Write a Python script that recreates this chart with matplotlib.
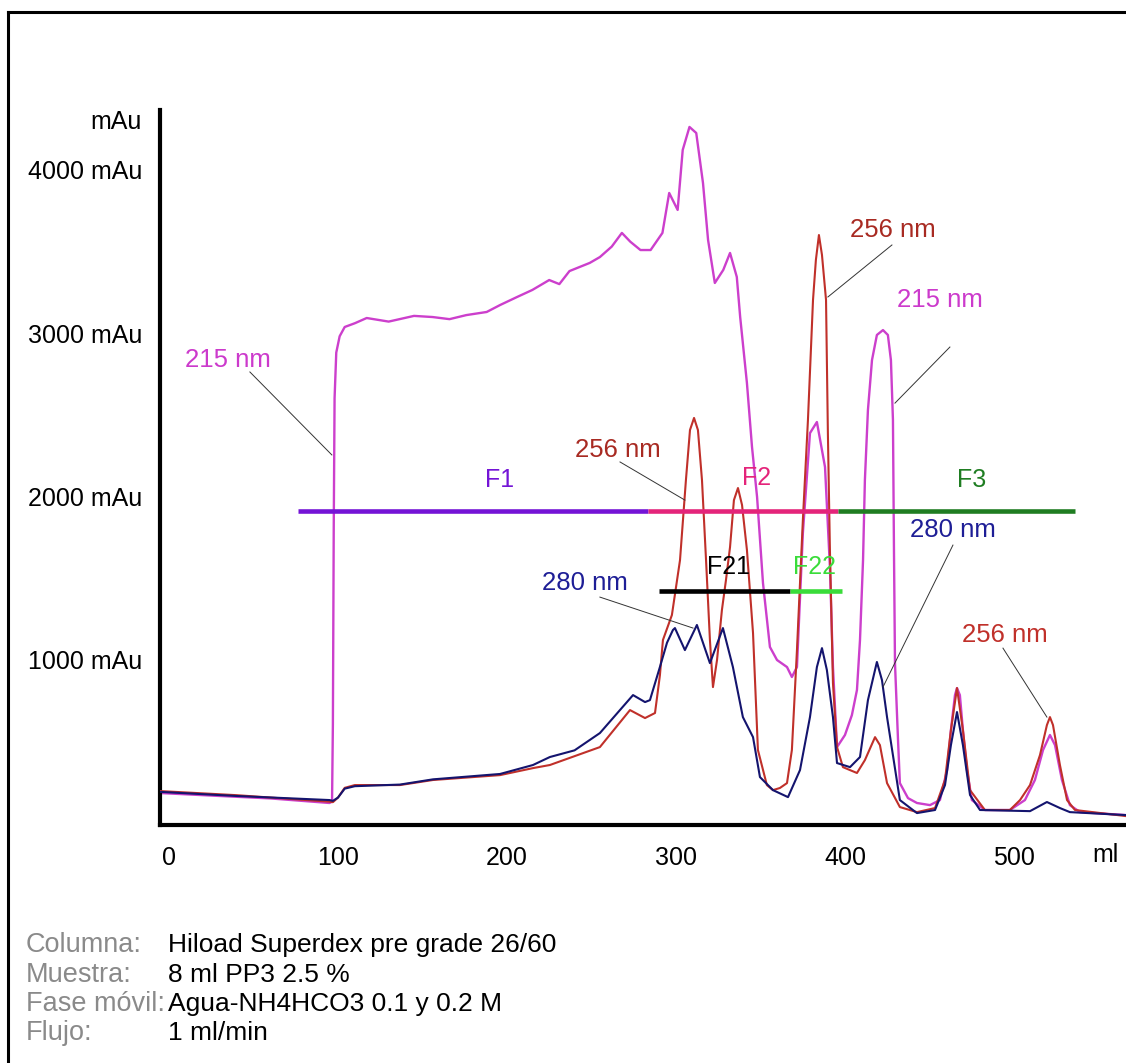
import matplotlib
matplotlib.use("Agg")
import matplotlib.pyplot as plt
from matplotlib.lines import Line2D

plt.rcParams['font.family'] = ['Liberation Sans', 'DejaVu Sans']

# --- chromatogram traces (ml, mAu) ---
ml_215 = [-5, 30, 60, 95, 96.5, 97, 97.5, 98, 99, 101, 104, 110, 117, 130, 145, 156, 166, 176,
          188, 196, 206, 215, 225, 231, 237, 243, 249, 255, 262, 268, 273, 279, 285, 292, 296,
          301, 304, 308, 312, 316, 319, 323, 328, 332, 336, 338, 342, 345, 348, 351.5, 355.6,
          359.8, 365.7, 368.6, 371.6, 375.1, 379.3, 383.4, 388.2, 391.1, 392.9, 395.3, 400,
          404.1, 407.1, 408.9, 410.7, 411.8, 413.6, 416, 418.9, 422.5, 425.4, 427.2, 428.4,
          429, 429.6, 431.4, 432.5, 437.3, 442.6, 450.3, 456.2, 460.4, 462.7, 465.1, 466.3,
          468, 469.8, 472.2, 475.1, 482.8, 497.6, 506.5, 512.4, 517.2, 521.3, 524.3, 528.4,
          533.1, 539.1, 566]
mau_215 = [178, 160, 145, 117, 125, 600, 1800, 2600, 2880, 2980, 3037, 3060, 3092, 3070, 3105,
           3098, 3085, 3110, 3129, 3172, 3221, 3264, 3325, 3300, 3380, 3405, 3430, 3466, 3530,
           3614, 3560, 3509, 3509, 3614, 3859, 3755, 4123, 4264, 4227, 3920, 3571, 3307, 3387,
           3491, 3344, 3098, 2693, 2301, 1994, 1466, 1074, 994, 951, 890, 951, 1773, 2386,
           2454, 2178, 1564, 951, 460, 534, 656, 810, 1117, 1607, 2098, 2528, 2834, 2988,
           3018, 2988, 2834, 2466, 1669, 975, 503, 239, 147, 117, 104, 135, 319, 564, 779,
           822, 779, 564, 319, 135, 74, 74, 135, 258, 442, 534, 472, 258, 104, 61, 43]

ml_256 = [-5, 40, 95, 97, 100, 104, 110, 136.7, 156.2, 195.9, 215.4, 225.4, 255, 272.8, 281.7,
          287.6, 290.5, 292.3, 297.6, 302.4, 305.9, 308.3, 310.7, 313, 315.4, 317.8, 320.1,
          321.9, 324.3, 327.2, 329.6, 332, 334.3, 336.7, 339.1, 342, 345.6, 348.5, 353.8,
          357.4, 361.5, 365.7, 368.6, 371.6, 375.1, 378.1, 381.1, 382.8, 384.6, 386.4, 388.8,
          389.9, 391.1, 392.9, 395.3, 398.8, 407.1, 411.8, 417.8, 420.7, 424.9, 432.5, 442.6,
          453.3, 459.2, 462.7, 466.3, 469.8, 474, 482.8, 497.6, 503.6, 509.5, 515.4, 519.5,
          521.3, 523.1, 527.2, 531.4, 536.1, 566]
mau_256 = [190, 165, 125, 122, 150, 210, 227, 227, 258, 288, 331, 350, 460, 687, 638, 669, 900,
           1117, 1270, 1607, 2098, 2405, 2479, 2405, 2098, 1607, 1117, 828, 994, 1301, 1485,
           1687, 1975, 2049, 1945, 1669, 1160, 442, 227, 196, 209, 239, 442, 1055, 1853, 2466,
           3203, 3448, 3601, 3479, 3203, 2386, 1669, 853, 460, 337, 301, 380, 521, 472, 239,
           92, 61, 86, 258, 564, 822, 564, 196, 74, 74, 135, 227, 411, 595, 644, 595, 350,
           135, 74, 37]

ml_280 = [-5, 40, 95, 97, 100, 104, 110, 136.7, 156.2, 195.9, 215.4, 225.4, 240, 255, 274.6,
          281.7, 284.6, 290.5, 294.7, 298.2, 299.4, 305.3, 312.4, 320.1, 327.8, 333.7, 339.6,
          345.6, 349.7, 357.4, 366.3, 373.4, 379.3, 383.4, 386.4, 389.3, 392.9, 395.3, 403,
          408.9, 413.6, 418.9, 421.9, 424.9, 432.5, 442.6, 453.3, 459.2, 462.7, 466.3, 469.8,
          474, 479.9, 509.5, 519.5, 527.2, 533.1, 566]
mau_280 = [185, 160, 135, 130, 150, 205, 220, 230, 262, 295, 350, 399, 440, 546, 779, 736, 748,
           951, 1100, 1178, 1190, 1055, 1209, 975, 1190, 951, 644, 521, 276, 196, 153, 319,
           644, 951, 1067, 933, 644, 362, 337, 399, 748, 982, 871, 644, 135, 55, 74, 227, 472,
           675, 472, 166, 74, 67, 123, 86, 61, 43]

# --- fraction bars (start ml, end ml, mAu) ---
fractions = ['F1', 'F2', 'F3', 'F21', 'F22']
frac_start = [76.3, 283.4, 395.9, 289.9, 367.5]
frac_end = [283.4, 395.9, 536.1, 367.5, 398.2]
frac_level = [1908, 1908, 1908, 1417, 1417]
frac_label_x = [195.9, 347.9, 475.1, 330.8, 382.2]
frac_label_y = [2098, 2110, 2098, 1564, 1564]
frac_colors = ['#7414d6', '#e4247a', '#1f7d22', '#000000', '#3adc3a']

# --- wavelength labels: text position and leader line end (ml, mAu) ---
nm_labels = ['215 nm', '256 nm', '215 nm', '256 nm', '280 nm', '280 nm', '256 nm']
nm_text_x = [34.9, 428.4, 456.2, 265.7, 246.2, 463.9, 494.7]
nm_text_y = [2834, 3632, 3203, 2282, 1466, 1791, 1147]
nm_from_x = [47.9, 427.8, 462.1, 266.9, 255.0, 463.9, 493.5]
nm_from_y = [2761, 3540, 2914, 2209, 1380, 1699, 1067]
nm_to_x = [96.4, 389.9, 429.6, 305.3, 310.1, 422.5, 519.5]
nm_to_y = [2252, 3221, 2570, 1975, 1190, 828, 644]
nm_colors = ['#cc3acc', '#a82a22', '#cc3acc', '#a82a22', '#1e1e96', '#1e1e96', '#c0302a']

x_ticks = [0, 100, 200, 300, 400, 500]
y_ticks = [1000, 2000, 3000, 4000]

info_keys = ['Columna:', 'Muestra:', 'Fase móvil:', 'Flujo:']
info_vals = ['Hiload Superdex pre grade 26/60', '8 ml PP3 2.5 %',
             'Agua-NH4HCO3 0.1 y 0.2 M', '1 ml/min']

W, H = 1126, 1063
fig = plt.figure(figsize=(W / 100, H / 100), dpi=100)
fig.patch.set_facecolor('white')

# frame of the original picture (top and left only)
fig.add_artist(Line2D([8 / W, 8 / W], [0, 1 - 12 / H], color='black', lw=2.2))
fig.add_artist(Line2D([8 / W, 1], [1 - 12 / H, 1 - 12 / H], color='black', lw=2.2))

ax = fig.add_axes([160 / W, 1 - 825 / H, (W - 160) / W, (825 - 110) / H])
ax.set_xlim(-5.3, 566.3)
ax.set_ylim(-18, 4368)

ax.plot(ml_215, mau_215, color='#cc3fcc', lw=1.7, zorder=2)
ax.plot(ml_256, mau_256, color='#c0302a', lw=1.5, zorder=3)
ax.plot(ml_280, mau_280, color='#14146e', lw=1.5, zorder=4)

for i in range(len(fractions)):
    ax.plot([frac_start[i], frac_end[i]], [frac_level[i], frac_level[i]],
            color=frac_colors[i], lw=3.3, solid_capstyle='butt', zorder=5)
    ax.text(frac_label_x[i], frac_label_y[i], fractions[i], color=frac_colors[i],
            fontsize=18, ha='center', va='center', zorder=6)

for i in range(len(nm_labels)):
    ax.plot([nm_from_x[i], nm_to_x[i]], [nm_from_y[i], nm_to_y[i]],
            color='#333333', lw=0.7, zorder=6)
    ax.text(nm_text_x[i], nm_text_y[i], nm_labels[i], color=nm_colors[i],
            fontsize=18.5, ha='center', va='center', zorder=6)

for side in ['top', 'right']:
    ax.spines[side].set_visible(False)
for side in ['left', 'bottom']:
    ax.spines[side].set_linewidth(3)
ax.set_xticks(x_ticks)
ax.set_xticklabels([str(v) for v in x_ticks])
ax.set_yticks(y_ticks)
ax.set_yticklabels([f'{v} mAu' for v in y_ticks])
ax.tick_params(length=0, labelsize=18)
ax.tick_params(axis='x', pad=15)
ax.tick_params(axis='y', pad=12.5)

fig.text(142 / W, 1 - 122 / H, 'mAu', fontsize=18, ha='right', va='center')
fig.text(1105 / W, 1 - 855 / H, 'ml', fontsize=18, ha='center', va='center')

for i, (k, v) in enumerate(zip(info_keys, info_vals)):
    y = 1 - (945 + 29.5 * i) / H
    fig.text(26 / W, y, k, color='#8a8a8a', fontsize=19.5, ha='left', va='center')
    fig.text(168 / W, y, v, color='black', fontsize=19, ha='left', va='center')

fig.savefig('out.png', dpi=100, facecolor='white')
